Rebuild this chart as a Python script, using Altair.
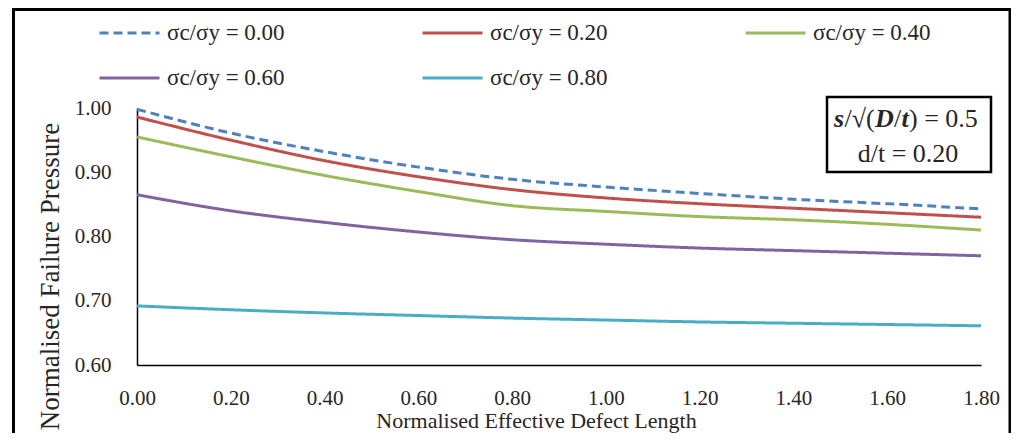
import altair as alt
import pandas as pd

# ---------------- data ----------------
x_vals = [0.0, 0.2, 0.4, 0.6, 0.8, 1.0, 1.2, 1.4, 1.6, 1.8]
series_names = ["σc/σy = 0.00", "σc/σy = 0.20", "σc/σy = 0.40", "σc/σy = 0.60", "σc/σy = 0.80"]
s000 = [0.998, 0.961, 0.932, 0.908, 0.889, 0.877, 0.867, 0.858, 0.851, 0.843]
s020 = [0.986, 0.950, 0.918, 0.893, 0.873, 0.860, 0.851, 0.844, 0.837, 0.830]
s040 = [0.955, 0.924, 0.895, 0.870, 0.848, 0.839, 0.831, 0.826, 0.819, 0.810]
s060 = [0.865, 0.840, 0.822, 0.807, 0.795, 0.788, 0.782, 0.778, 0.774, 0.770]
s080 = [0.692, 0.686, 0.681, 0.677, 0.673, 0.670, 0.667, 0.665, 0.663, 0.661]
y_ticks = [0.6, 0.7, 0.8, 0.9, 1.0]

colors = ["#4F81BD", "#C0504D", "#9BBB59", "#8064A2", "#4BACC6"]
dashes = [[9, 5], [1, 0], [1, 0], [1, 0], [1, 0]]

rows = []
for name, vals in zip(series_names, [s000, s020, s040, s060, s080]):
    for xv, yv in zip(x_vals, vals):
        rows.append({"x": xv, "y": yv, "series": name})
df = pd.DataFrame(rows)

FONT = "Liberation Serif"
TXT = "#262626"

legend = alt.Legend(
    orient="none", legendX=-39, legendY=-86, columns=3, direction="horizontal",
    title=None, symbolType="stroke", symbolSize=3600, symbolStrokeWidth=3,
    clipHeight=22, rowPadding=22, columnPadding=136, padding=0,
    labelFont=FONT, labelFontSize=23, labelColor=TXT, labelOffset=6,
    labelLimit=300,
)

lines = alt.Chart(df).mark_line(strokeWidth=3, interpolate="monotone").encode(
    x=alt.X(
        "x:Q",
        scale=alt.Scale(domain=[0, 1.8], nice=False, zero=False),
        axis=alt.Axis(
            values=x_vals, format=".2f", title="Normalised Effective Defect Length",
            labelPadding=33, labelBaseline="middle", labelFlush=False,
            titleX=399, titleY=55, titleBaseline="middle", titleAlign="center",
            titleFontSize=22,
        ),
    ),
    y=alt.Y(
        "y:Q",
        scale=alt.Scale(domain=[0.6, 1.0], nice=False, zero=False),
        axis=alt.Axis(
            values=y_ticks, format=".2f", title="Normalised Failure Pressure",
            labelPadding=26, labelFlush=False,
            titleX=-87, titleY=168, titleAngle=270, titleAlign="center",
            titleBaseline="middle", titleFontSize=27,
        ),
    ),
    color=alt.Color("series:N", scale=alt.Scale(domain=series_names, range=colors), legend=legend),
    strokeDash=alt.StrokeDash("series:N", scale=alt.Scale(domain=series_names, range=dashes), legend=legend),
)

one = pd.DataFrame({"a": [0]})

frame = alt.Chart(one).mark_rect(fill="transparent", stroke="black", strokeWidth=3).encode(
    x=alt.value(-123.5), x2=alt.value(873), y=alt.value(-98.5), y2=alt.value(345)
)

box = alt.Chart(one).mark_rect(fill="white", stroke="black", strokeWidth=2.5).encode(
    x=alt.value(690), x2=alt.value(854), y=alt.value(-11), y2=alt.value(64)
)

# annotation segments: (text, x, bold-italic?)
seg_texts = ["s", "/√(", "D", "/", "t", ") = 0.5"]
seg_x = [697, 707.5, 738, 757, 764.5, 772]
seg_bi = [True, False, True, False, True, False]

ann_layers = []
for t, xp, bi in zip(seg_texts, seg_x, seg_bi):
    kw = dict(text=t, font=FONT, fontSize=26, color=TXT, align="left", baseline="alphabetic")
    if bi:
        kw.update(fontWeight="bold", fontStyle="italic")
    ann_layers.append(alt.Chart(one).mark_text(**kw).encode(x=alt.value(xp), y=alt.value(19)))

ann_layers.append(
    alt.Chart(one).mark_text(text="d/t = 0.20", font=FONT, fontSize=26, color=TXT,
                             align="center", baseline="alphabetic").encode(
        x=alt.value(771), y=alt.value(54))
)

chart = alt.layer(frame, lines, box, *ann_layers).properties(
    width=844, height=257,
    padding={"left": 129, "top": 100, "right": 30, "bottom": 68},
    autosize=alt.AutoSizeParams(type="none"),
    background="white",
).configure_view(strokeWidth=0).configure_axis(
    domainColor="black", domainWidth=1.5, ticks=False, tickSize=0, grid=False,
    labelFont=FONT, labelFontSize=21, labelColor=TXT,
    titleFont=FONT, titleFontWeight="normal", titleColor=TXT,
)

chart.save("out.html", embed_options={"renderer": "svg", "actions": False})
